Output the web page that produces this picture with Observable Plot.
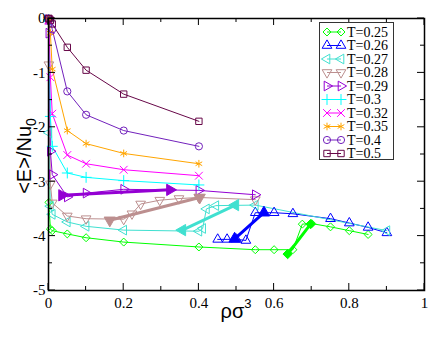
<!DOCTYPE html>
<html><head><meta charset="utf-8">
<script src="https://cdn.jsdelivr.net/npm/d3@7"></script>
<script src="https://cdn.jsdelivr.net/npm/@observablehq/plot@0.6"></script>
<style>
body{margin:0;background:#fff;}
#wrap{position:relative;width:436px;height:337px;}
#legend{position:absolute;left:319px;top:22px;overflow:visible;}
</style></head><body><div id="wrap"></div>
<script>
// ---- data ----
const temps = ["0.25","0.26","0.27","0.28","0.29","0.3","0.32","0.35","0.4","0.5"];
const colors = ["#00ff00","#0000ff","#40e0d0","#bc8f8f","#9400d3","#00ffff","#ff00ff","#ffa500","#7221bc","#670748"];
const symbols = ["diamond2","triangle","triangle","triangle","triangle","plus","times","asterisk","circle","square"];
const rotations = [0,0,270,180,90,0,0,0,0,0];

const x_025 = [0.0002,0.001,0.005,0.01,0.05,0.1,0.2,0.4,0.55,0.6,0.65,0.675,0.7,0.75,0.8,0.85];
const y_025 = [-0.02,-3.38,-3.87,-3.9,-3.96,-4.03,-4.11,-4.2,-4.25,-4.25,-4.25,-3.78,-3.77,-3.83,-3.9,-3.97];
const x_026 = [0.45,0.475,0.5,0.525,0.55,0.6,0.65,0.75,0.8,0.85,0.9];
const y_026 = [-4.06,-4.06,-4.06,-4.08,-3.57,-3.57,-3.59,-3.68,-3.76,-3.84,-3.94];
const x_027 = [0.0002,0.001,0.005,0.01,0.05,0.1,0.2,0.4,0.41,0.42,0.445,0.55,0.9];
const y_027 = [-0.03,-2.1,-3.45,-3.6,-3.74,-3.82,-3.89,-3.91,-3.86,-3.5,-3.44,-3.43,-3.9];
const x_028 = [0.0002,0.001,0.005,0.01,0.05,0.1,0.2,0.222,0.245,0.296,0.347,0.4,0.55];
const y_028 = [-0.03,-0.85,-3.04,-3.39,-3.63,-3.68,-3.69,-3.59,-3.41,-3.34,-3.31,-3.29,-3.33];
const x_029 = [0.0002,0.001,0.005,0.01,0.05,0.1,0.2,0.4,0.55];
const y_029 = [-0.02,-0.27,-2.44,-2.87,-3.28,-3.21,-3.14,-3.16,-3.24];
const x_030 = [0.0002,0.001,0.005,0.01,0.05,0.1,0.2,0.4];
const y_030 = [-0.02,-0.05,-1.8,-2.35,-2.84,-2.92,-2.98,-3.06];
const x_032 = [0.0002,0.001,0.005,0.01,0.05,0.1,0.2,0.4];
const y_032 = [-0.02,-0.04,-1.08,-1.75,-2.51,-2.67,-2.78,-2.89];
const x_035 = [0.0002,0.001,0.005,0.01,0.05,0.1,0.2,0.4];
const y_035 = [-0.01,-0.03,-0.27,-0.93,-2.06,-2.3,-2.48,-2.67];
const x_040 = [0.0002,0.001,0.005,0.01,0.05,0.1,0.2,0.4];
const y_040 = [0,-0.01,-0.05,-0.2,-1.34,-1.77,-2.06,-2.35];
const x_050 = [0.0002,0.001,0.005,0.01,0.05,0.1,0.2,0.4];
const y_050 = [0,0,-0.03,-0.1,-0.53,-0.95,-1.39,-1.89];

// jumps (thick segments with filled markers)
const jx_025 = [0.636,0.697], jy_025 = [-4.33,-3.78];
const jx_026 = [0.495,0.573], jy_026 = [-4.05,-3.57];
const jx_027 = [0.497,0.356], jy_027 = [-3.43,-3.89];
const jx_028 = [0.163,0.402], jy_028 = [-3.71,-3.29];
const jx_029 = [0.036,0.323], jy_029 = [-3.25,-3.15];

const xTicks = [0,0.2,0.4,0.6,0.8,1];
const xMinor = [0.1,0.3,0.5,0.7,0.9];
const yTicks = [0,-1,-2,-3,-4,-5];
const yMinor = [-0.5,-1.5,-2.5,-3.5,-4.5];

const serif = "'Liberation Serif', 'Times New Roman', serif";

// ---- build ----
const series = [[x_025,y_025],[x_026,y_026],[x_027,y_027],[x_028,y_028],[x_029,y_029],
  [x_030,y_030],[x_032,y_032],[x_035,y_035],[x_040,y_040],[x_050,y_050]];
const rows = [];
series.forEach(([xs,ys],k)=>xs.forEach((v,i)=>rows.push({T:temps[k],x:v,y:ys[i]})));
const jumps = [[jx_025,jy_025],[jx_026,jy_026],[jx_027,jy_027],[jx_028,jy_028],[jx_029,jy_029]];
const jrows = [];
jumps.forEach(([xs,ys],k)=>xs.forEach((v,i)=>jrows.push({T:temps[k],x:v,y:ys[i]})));
const rot = Object.fromEntries(temps.map((t,i)=>[t,rotations[i]]));

const plot = Plot.plot({
  width:436, height:337, marginLeft:48, marginRight:12, marginTop:18, marginBottom:47,
  x:{domain:[0,1]}, y:{domain:[-5,0]},
  color:{domain:temps, range:colors},
  symbol:{domain:temps, range:symbols},
  style:{fontFamily:serif, fontSize:"15px", background:"white", color:"black"},
  marks:[
    Plot.line(rows,{x:"x",y:"y",z:"T",stroke:"T",strokeWidth:1}),
    Plot.dot(rows,{x:"x",y:"y",symbol:"T",stroke:"T",fill:"none",r:3.6,strokeWidth:1,rotate:d=>rot[d.T]}),
    Plot.line(jrows,{x:"x",y:"y",z:"T",stroke:"T",strokeWidth:3}),
    Plot.dot(jrows,{x:"x",y:"y",symbol:"T",stroke:"T",fill:"T",r:4.2,strokeWidth:1,rotate:d=>rot[d.T]}),
    Plot.frame({stroke:"black",strokeWidth:1.5}),
    Plot.axisX({ticks:xTicks,tickSize:0,tickPadding:7,tickFormat:d=>String(d),label:null,fontSize:15,fontFamily:serif}),
    Plot.axisY({ticks:yTicks,tickSize:0,tickPadding:3,tickFormat:d=>String(d),label:null,fontSize:15,fontFamily:serif})
  ]
});
document.getElementById("wrap").appendChild(plot);

const svg = d3.select(plot);
const sx = plot.scale("x").apply, sy = plot.scale("y").apply;
const g = svg.append("g").attr("stroke","black").attr("stroke-width",1);
const x0 = sx(0), x1 = sx(1), yb = sy(-5), yt = sy(0);
function xt(v,len){const p=sx(v);g.append("line").attr("x1",p).attr("x2",p).attr("y1",yb).attr("y2",yb-len);g.append("line").attr("x1",p).attr("x2",p).attr("y1",yt).attr("y2",yt+len);}
function yt_(v,len){const p=sy(v);g.append("line").attr("y1",p).attr("y2",p).attr("x1",x0).attr("x2",x0+len);g.append("line").attr("y1",p).attr("y2",p).attr("x1",x1).attr("x2",x1-len);}
xTicks.forEach(v=>xt(v,7)); xMinor.forEach(v=>xt(v,4));
yTicks.forEach(v=>yt_(v,7)); yMinor.forEach(v=>yt_(v,4));

// axis titles
const yl = svg.append("text").attr("transform","translate(31,156) rotate(-90)")
  .attr("text-anchor","middle").attr("font-family","'Liberation Sans', sans-serif").attr("font-size",20).attr("fill","black");
yl.append("tspan").text("<E>/Nu");
yl.append("tspan").attr("font-size",14).attr("dy",5).text("0");
const xl = svg.append("text").attr("x",236).attr("y",318)
  .attr("text-anchor","middle").attr("font-family","'Liberation Sans', sans-serif").attr("font-size",20).attr("fill","black");
xl.append("tspan").text("ρσ");
xl.append("tspan").attr("font-size",13).attr("dy",-10).text("3");

// legend
const lw=74, lh=137;
const leg = d3.select("#wrap").append("svg").attr("id","legend").attr("width",lw+2).attr("height",lh+4);
leg.append("rect").attr("x",0.5).attr("y",0.5).attr("width",lw).attr("height",lh).attr("fill","white").attr("stroke","#333");
const symMap = {diamond2:d3.symbolDiamond2,triangle:d3.symbolTriangle,plus:d3.symbolPlus,times:d3.symbolTimes,asterisk:d3.symbolAsterisk,circle:d3.symbolCircle,square:d3.symbolSquare};
temps.forEach((t,i)=>{
  const cy = 10 + i*13.5;
  const e = leg.append("g");
  e.append("line").attr("x1",8).attr("x2",22).attr("y1",cy).attr("y2",cy).attr("stroke",colors[i]);
  [8,22].forEach(cx=>e.append("path").attr("d",d3.symbol(symMap[symbols[i]], 3.6*3.6*Math.PI)())
    .attr("transform",`translate(${cx},${cy}) rotate(${rotations[i]})`).attr("fill","none").attr("stroke",colors[i]));
  e.append("text").attr("x",28).attr("y",cy).attr("dy","0.35em").attr("font-family",serif)
    .attr("font-size",14).attr("fill","black").text("T="+t);
});
</script></body></html>
